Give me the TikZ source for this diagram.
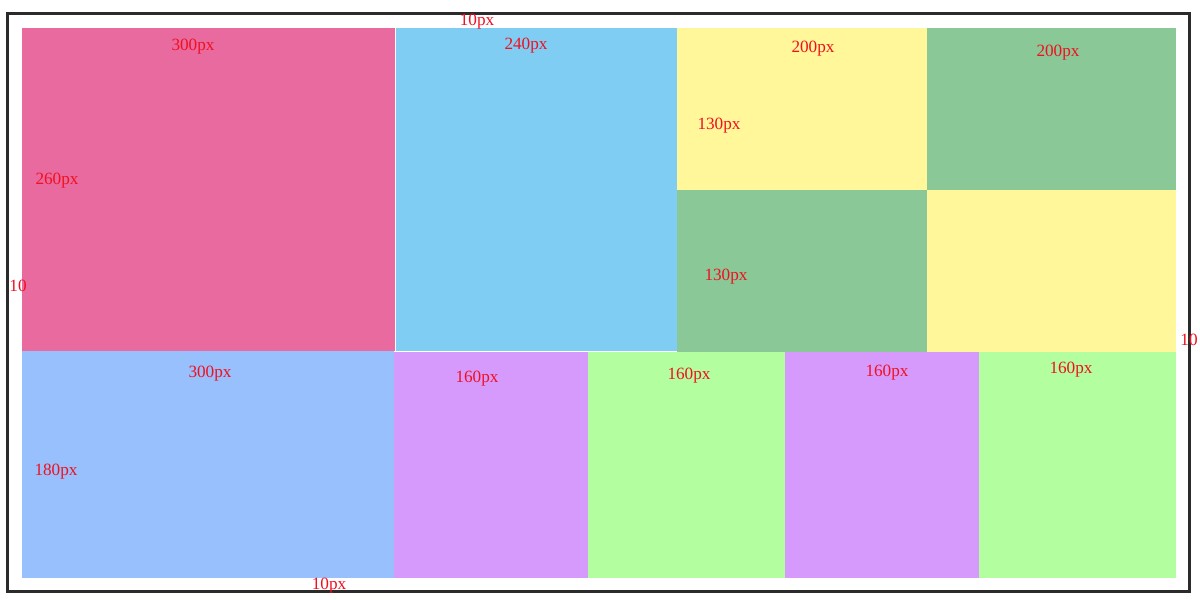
\documentclass[tikz,border=0pt]{standalone}
\usepackage{fontspec}
\setmainfont{Liberation Serif}
\definecolor{cpink}{HTML}{E96A9F}
\definecolor{cblue}{HTML}{80CDF4}
\definecolor{cyellow}{HTML}{FFF799}
\definecolor{cgreen}{HTML}{8AC997}
\definecolor{clblue}{HTML}{97C0FC}
\definecolor{cpurple}{HTML}{D69AFD}
\definecolor{clgreen}{HTML}{B3FE9F}
\definecolor{cframe}{HTML}{2B2B2B}
\definecolor{clabel}{HTML}{F01020}
\begin{document}
\begin{tikzpicture}[x=1pt,y=-1pt,
  lbl/.style={text=clabel,font=\fontsize{17.2}{18}\selectfont,inner sep=0pt,yshift=-2pt}]
\useasboundingbox (0,0) rectangle (1200,600);
\fill[white] (0,0) rectangle (1200,600);
% blocks
\fill[cpink]   (22,28)   rectangle (395,351);
\fill[cblue]   (396,28)  rectangle (677,351);
\fill[cyellow] (677,28)  rectangle (927,190);
\fill[cgreen]  (927,28)  rectangle (1176,190);
\fill[cgreen]  (677,190) rectangle (927,352);
\fill[cyellow] (927,190) rectangle (1176,352);
\fill[clblue]  (22,351)  rectangle (394,578);
\fill[cpurple] (394,352) rectangle (588,578);
\fill[clgreen] (588,352) rectangle (785,578);
\fill[cpurple] (785,352) rectangle (979,578);
\fill[clgreen] (979,352) rectangle (1176,578);
% frame
\draw[cframe,line width=3pt] (7.5,13.5) rectangle (1189.5,591.5);
% labels
\node[lbl] (t10) at (477,20) {10px};
\node[lbl] (a1) at (193,45) {300px};
\node[lbl] (a2) at (526,44) {240px};
\node[lbl] (a3) at (813,47) {200px};
\node[lbl] (a4) at (1058,51) {200px};
\node[lbl] (h1) at (57,179) {260px};
\node[lbl] (h2) at (719,124) {130px};
\node[lbl] (h3) at (726,275) {130px};
\node[lbl] (l10) at (18,284) {10};
\node[lbl] (r10) at (1189,338) {10};
\node[lbl] (b1) at (210,372) {300px};
\node[lbl] (b2) at (477,377) {160px};
\node[lbl] (b3) at (689,374) {160px};
\node[lbl] (b4) at (887,371) {160px};
\node[lbl] (b5) at (1071,368) {160px};
\node[lbl] (h4) at (56,470) {180px};
\node[lbl] (d10) at (329,584) {10px};
\end{tikzpicture}
\end{document}
